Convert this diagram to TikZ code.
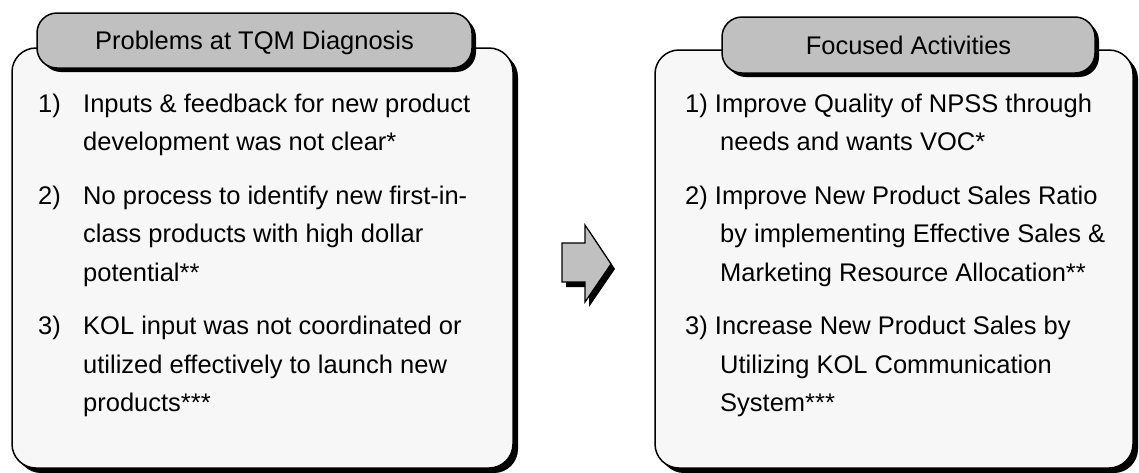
\documentclass[tikz,border=0pt]{standalone}
\usepackage{fontspec}
\setmainfont{Liberation Sans}
\usetikzlibrary{shadows}
\definecolor{panelfill}{HTML}{F7F7F7}
\definecolor{tabfill}{HTML}{C0C0C0}
\begin{document}
\begin{tikzpicture}[x=1pt,y=-1pt,
  txt/.style={anchor=base west, inner sep=0pt, font=\fontsize{25.5}{30}\selectfont},
  panel/.style={draw=black, line width=1.5pt, fill=panelfill, rounded corners=24pt,
    inner sep=0pt, drop shadow={opacity=1, fill=black, shadow xshift=5pt, shadow yshift=-5pt}},
  tabhead/.style={draw=black, line width=1.5pt, fill=tabfill, rounded corners=20pt,
    inner sep=0pt, text height=18.3pt, text depth=0pt, font=\fontsize{25.5}{30}\selectfont,
    drop shadow={opacity=1, fill=black, shadow xshift=4pt, shadow yshift=-4pt}},
]
\useasboundingbox (0,0) rectangle (1139,472);

% panels
\node[panel, minimum width=501pt, minimum height=420pt] (probbox) at (262.5,258) {};
\node[panel, minimum width=478pt, minimum height=418pt] (actbox) at (894,259) {};

% panel headings
\node[tabhead, minimum width=435pt, minimum height=55pt] (probtab) at (254.5,40.5) {Problems at TQM Diagnosis};
\node[tabhead, minimum width=373pt, minimum height=56pt] (acttab) at (908.5,45) {Focused Activities};

% block arrow between the panels
\fill[black] (566,248) -- (589,248) -- (589,230) -- (615,269) -- (589,307) -- (589,287) -- (566,287) -- cycle;
\draw[fill=tabfill, line width=1.2pt, line join=miter] (562,243) -- (585,243) -- (585,225) -- (611,264) -- (585,302) -- (585,282) -- (562,282) -- cycle;

% problems list
\node[txt] (p1n) at (38,112) {1)};
\node[txt] (p1a) at (83,112) {Inputs \& feedback for new product};
\node[txt] (p1b) at (83,150.5) {development was not clear*};
\node[txt] (p2n) at (38,204) {2)};
\node[txt] (p2a) at (83,204) {No process to identify new first-in-};
\node[txt] (p2b) at (83,242.5) {class products with high dollar};
\node[txt] (p2c) at (83,281) {potential**};
\node[txt] (p3n) at (38,334.5) {3)};
\node[txt] (p3a) at (83,334.5) {KOL input was not coordinated or};
\node[txt] (p3b) at (83,373) {utilized effectively to launch new};
\node[txt] (p3c) at (83,411.5) {products***};

% activities list
\node[txt] (a1a) at (685,112) {1) Improve Quality of NPSS through};
\node[txt] (a1b) at (720,150.5) {needs and wants VOC*};
\node[txt] (a2a) at (685,204) {2) Improve New Product Sales Ratio};
\node[txt] (a2b) at (720,242.5) {by implementing Effective Sales \&};
\node[txt] (a2c) at (720,281) {Marketing Resource Allocation**};
\node[txt] (a3a) at (685,334.5) {3) Increase New Product Sales by};
\node[txt] (a3b) at (720,373) {Utilizing KOL Communication};
\node[txt] (a3c) at (720,411.5) {System***};
\end{tikzpicture}
\end{document}
